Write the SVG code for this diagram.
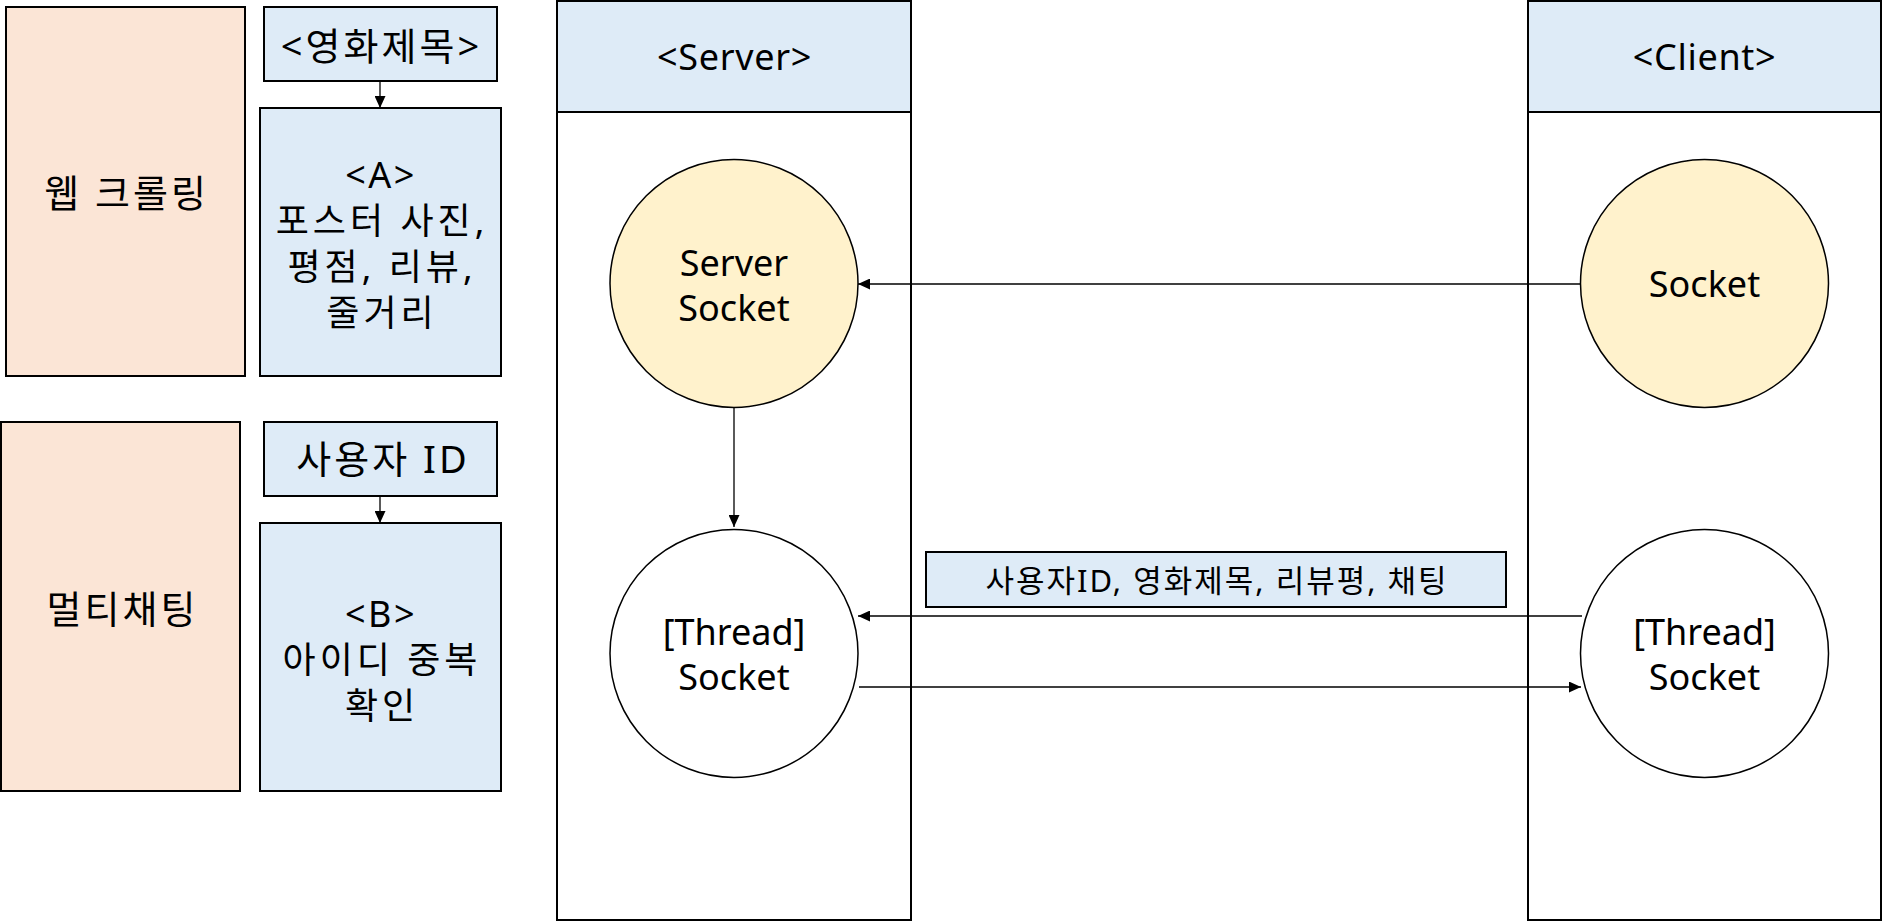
<svg xmlns="http://www.w3.org/2000/svg" width="1882" height="922" viewBox="0 0 1882 922">
<style>
text{font-family:"Noto Sans","Noto Sans CJK KR",sans-serif;fill:#000;text-anchor:middle}
.peach{fill:#FBE5D6;stroke:#000;stroke-width:2}
.blue{fill:#DEEBF7;stroke:#000;stroke-width:2}
.lane{fill:#fff;stroke:#000;stroke-width:2}
.yel{fill:#FFF2CC;stroke:#000;stroke-width:1.5}
.wht{fill:#fff;stroke:#000;stroke-width:1.5}
.big{font-size:36px}
.ko{font-size:38px;letter-spacing:3px}
.ml{font-size:36px;letter-spacing:4px}
.tag{font-size:36px;letter-spacing:2.5px}
.hdr{font-size:36px;letter-spacing:0.7px}
.lab{font-size:31px;letter-spacing:2px}
.conn line{stroke:#000;stroke-width:1.3;marker-end:url(#ah)}
</style>
<defs>
<marker id="ah" markerUnits="userSpaceOnUse" markerWidth="12" markerHeight="11" refX="12" refY="5.5" orient="auto">
<path d="M0,0 L12,5.5 L0,11 z" fill="#000"/>
</marker>
</defs>
<rect width="1882" height="922" fill="#fff"/>

<g id="lane-server">
<rect class="lane" x="557" y="1" width="354" height="919"/>
<rect class="blue" x="557" y="1" width="354" height="111"/>
<text class="hdr" x="734.5" y="70">&lt;Server&gt;</text>
</g>
<g id="lane-client">
<rect class="lane" x="1528" y="1" width="353" height="919"/>
<rect class="blue" x="1528" y="1" width="353" height="111"/>
<text class="hdr" x="1704.5" y="70">&lt;Client&gt;</text>
</g>

<g id="web-crawling">
<rect class="peach" x="6" y="7" width="239" height="369"/>
<text class="ko" x="126.5" y="207">웹 크롤링</text>
</g>
<g id="movie-title">
<rect class="blue" x="264" y="7" width="233" height="74"/>
<text class="ko" x="381.5" y="60">&lt;영화제목&gt;</text>
</g>
<g id="box-a">
<rect class="blue" x="260" y="108" width="241" height="268"/>
<text class="tag" x="381" y="188">&lt;A&gt;</text>
<text class="ml" x="382" y="234">포스터 사진,</text>
<text class="ml" x="382" y="280">평점, 리뷰,</text>
<text class="ml" x="382" y="326">줄거리</text>
</g>

<g id="multichat">
<rect class="peach" x="1" y="422" width="239" height="369"/>
<text class="ko" x="122.5" y="623">멀티채팅</text>
</g>
<g id="user-id">
<rect class="blue" x="264" y="422" width="233" height="74"/>
<text class="ko" x="381.5" y="473">사용자 I<tspan letter-spacing="0">D</tspan></text>
</g>
<g id="box-b">
<rect class="blue" x="260" y="523" width="241" height="268"/>
<text class="tag" x="381" y="627">&lt;B&gt;</text>
<text class="ml" x="382" y="673">아이디 중복</text>
<text class="ml" x="382" y="719">확인</text>
</g>

<g id="server-socket">
<circle class="yel" cx="734" cy="283.5" r="124"/>
<text class="big" x="734" y="276">Server</text>
<text class="big" x="734" y="321">Socket</text>
</g>
<g id="client-socket">
<circle class="yel" cx="1704.5" cy="283.5" r="124"/>
<text class="big" x="1704.5" y="297">Socket</text>
</g>
<g id="server-thread">
<circle class="wht" cx="734" cy="653.5" r="124"/>
<text class="big" x="734" y="645">[Thread]</text>
<text class="big" x="734" y="690">Socket</text>
</g>
<g id="client-thread">
<circle class="wht" cx="1704.5" cy="653.5" r="124"/>
<text class="big" x="1704.5" y="645">[Thread]</text>
<text class="big" x="1704.5" y="690">Socket</text>
</g>

<g id="msg-label">
<rect class="blue" x="926" y="552" width="580" height="55"/>
<text class="lab" x="1217" y="592">사용자ID, 영화제목, 리뷰평, 채팅</text>
</g>

<g id="connectors" class="conn">
<line x1="380" y1="81" x2="380" y2="108"/>
<line x1="380" y1="496" x2="380" y2="523"/>
<line x1="1581" y1="284" x2="858" y2="284"/>
<line x1="734" y1="408" x2="734" y2="527"/>
<line x1="1582" y1="616" x2="858" y2="616"/>
<line x1="859" y1="687" x2="1581" y2="687"/>
</g>
</svg>
